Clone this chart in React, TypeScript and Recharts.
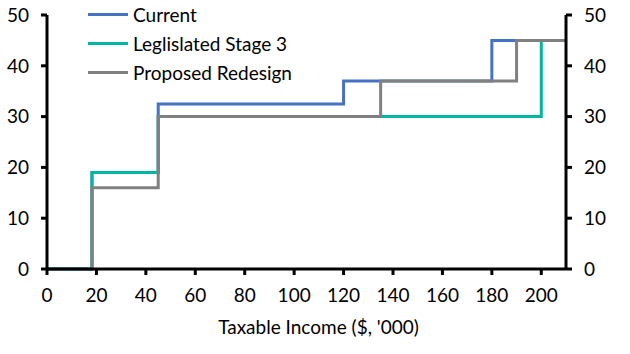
import React from 'react';
import { LineChart, Line, XAxis, YAxis, Legend } from 'recharts';

const currentData = [
  { x: 0, y: 0 },
  { x: 18.2, y: 19 },
  { x: 45, y: 32.5 },
  { x: 120, y: 37 },
  { x: 180, y: 45 },
  { x: 210, y: 45 },
];
const stage3Data = [
  { x: 0, y: 0 },
  { x: 18.2, y: 19 },
  { x: 45, y: 30 },
  { x: 200, y: 45 },
  { x: 210, y: 45 },
];
const proposedData = [
  { x: 0, y: 0 },
  { x: 18.2, y: 16 },
  { x: 45, y: 30 },
  { x: 135, y: 37 },
  { x: 190, y: 45 },
  { x: 210, y: 45 },
];
const xTicks = [0, 20, 40, 60, 80, 100, 120, 140, 160, 180, 200];
const yTicks = [0, 10, 20, 30, 40, 50];

const series = [
  { name: 'Current', color: '#4472C4', data: currentData, axis: 'right' },
  { name: 'Leglislated Stage 3', color: '#00B8A2', data: stage3Data, axis: 'left' },
  { name: 'Proposed Redesign', color: '#808080', data: proposedData, axis: 'left' },
];

const FONT = 'Lato, "Open Sans", sans-serif';
const tickStyle = { fontSize: 19, fill: '#000', fontFamily: FONT };

const LegendContent = () => (
  <div style={{ fontFamily: FONT, fontSize: 19, color: '#000' }}>
    {series.map((s) => (
      <div key={s.name} style={{ display: 'flex', alignItems: 'center', height: 29 }}>
        <div style={{ width: 40, height: 3, background: s.color, marginRight: 5 }} />
        <span>{s.name}</span>
      </div>
    ))}
  </div>
);

export default function App() {
  return (
    <div style={{ position: 'absolute', left: 0, top: 0, width: 630, height: 354, background: '#fff' }}>
      <LineChart width={630} height={354} margin={{ top: 15, right: 0, bottom: 20, left: 0 }}>
        <XAxis
          type="number"
          dataKey="x"
          domain={[0, 210]}
          ticks={xTicks}
          allowDuplicatedCategory={false}
          axisLine={{ stroke: '#000', strokeWidth: 3 }}
          tickLine={{ stroke: '#000', strokeWidth: 3 }}
          tickSize={6}
          tickMargin={14}
          tick={tickStyle}
          height={65}
          label={{ value: "Taxable Income ($, '000)", position: 'insideBottom', offset: 0, dx: 12, style: tickStyle }}
        />
        <YAxis
          yAxisId="left"
          orientation="left"
          type="number"
          domain={[0, 50]}
          ticks={yTicks}
          width={47}
          axisLine={{ stroke: '#000', strokeWidth: 3 }}
          tickLine={{ stroke: '#000', strokeWidth: 3 }}
          tickSize={6}
          tickMargin={12}
          tick={tickStyle}
        />
        <YAxis
          yAxisId="right"
          orientation="right"
          type="number"
          domain={[0, 50]}
          ticks={yTicks}
          width={64}
          axisLine={{ stroke: '#000', strokeWidth: 3 }}
          tickLine={{ stroke: '#000', strokeWidth: 3 }}
          tickSize={6}
          tickMargin={12}
          tick={tickStyle}
        />
        <Legend
          layout="vertical"
          align="center"
          verticalAlign="middle"
          content={<LegendContent />}
          wrapperStyle={{ position: 'absolute', left: 88, top: 0, width: 300 }}
        />
        {series.map((s) => (
          <Line
            key={s.name}
            yAxisId={s.axis}
            data={s.data}
            dataKey="y"
            name={s.name}
            type="stepAfter"
            stroke={s.color}
            strokeWidth={3}
            dot={false}
            activeDot={false}
            isAnimationActive={false}
          />
        ))}
      </LineChart>
    </div>
  );
}
